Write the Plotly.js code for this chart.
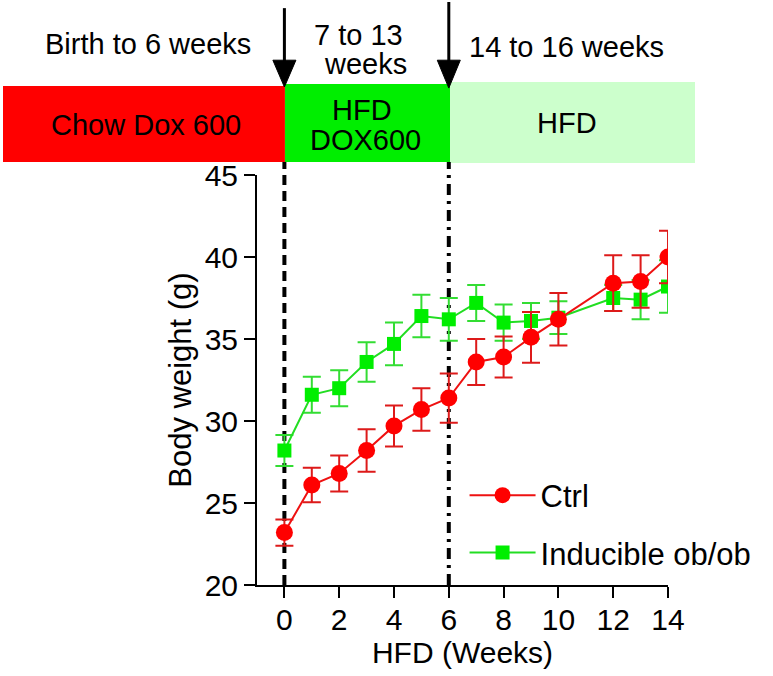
<!DOCTYPE html>
<html>
<head>
<meta charset="utf-8">
<script src="https://cdn.plot.ly/plotly-3.0.1.min.js"></script>
<style>html,body{margin:0;padding:0;background:#fff;}#chart{width:773px;height:676px;}</style>
</head>
<body>
<div id="chart"></div>
<script>
// ---- data ----
var weeks = [0, 1, 2, 3, 4, 5, 6, 7, 8, 9, 10, 12, 13, 14];
var ctrlWeight = [23.2, 26.1, 26.8, 28.2, 29.7, 30.7, 31.4, 33.6, 33.9, 35.1, 36.2, 38.4, 38.5, 40.0];
var ctrlErr    = [0.8, 1.05, 1.1, 1.3, 1.25, 1.3, 1.5, 1.4, 1.25, 1.55, 1.6, 1.7, 1.6, 1.6];
var obobWeight = [28.2, 31.6, 32.0, 33.6, 34.7, 36.4, 36.2, 37.2, 36.0, 36.1, 36.3, 37.5, 37.4, 38.2];
var obobErr    = [0.95, 1.1, 1.1, 1.2, 1.3, 1.3, 1.3, 1.1, 1.1, 1.1, 1.0, 0.8, 1.2, 1.6];
var seriesNames = ["Ctrl", "Inducible ob/ob"];
var yTicks = [20, 25, 30, 35, 40, 45];
var xTicks = [0, 2, 4, 6, 8, 10, 12, 14];
var phaseLabels = ["Birth to 6 weeks", "7 to 13", "weeks", "14 to 16 weeks"];
var boxLabels = ["Chow Dox 600", "HFD", "DOX600", "HFD"];
var switchWeeks = [0, 6];

var FONT = "Liberation Sans, Arial, Helvetica, sans-serif";

var traces = [
  {
    x: weeks, y: obobWeight, name: seriesNames[1], type: "scatter", mode: "lines+markers",
    legendrank: 2, legendgroup: "b",
    line: {color: "#22dd22", width: 2},
    marker: {symbol: "square", size: 14, color: "#00ee00"},
    error_y: {type: "data", array: obobErr, visible: true, color: "#33dd33", thickness: 2, width: 9}
  },
  {
    x: weeks, y: ctrlWeight, name: seriesNames[0], type: "scatter", mode: "lines+markers",
    legendrank: 1, legendgroup: "a",
    line: {color: "#ee1111", width: 2},
    marker: {symbol: "circle", size: 17, color: "#ff0000"},
    error_y: {type: "data", array: ctrlErr, visible: true, color: "#dd1a1a", thickness: 2, width: 9}
  }
];

function ann(text, x, y, xref) {
  return {text: text, x: x, y: y, xref: xref || "paper", yref: "paper", showarrow: false,
          xanchor: "center", yanchor: "middle", font: {family: FONT, size: 29, color: "#000"}};
}

var layout = {
  width: 773, height: 676, autosize: false,
  margin: {l: 257, r: 105, t: 175, b: 91},
  paper_bgcolor: "#fff", plot_bgcolor: "#fff",
  font: {family: FONT, size: 30, color: "#000"},
  showlegend: true,
  legend: {x: 0.505, y: 0.284, xanchor: "left", yanchor: "top", bgcolor: "rgba(0,0,0,0)",
           font: {family: FONT, size: 31, color: "#000"}, tracegroupgap: 14, itemwidth: 66,
           traceorder: "grouped"},
  xaxis: {range: [-1, 14], tickvals: xTicks, ticktext: xTicks.map(String), showgrid: false, zeroline: false,
          showline: true, linecolor: "#000", linewidth: 2, ticks: "outside", ticklen: 11, tickwidth: 2,
          tickcolor: "#000", tickfont: {family: FONT, size: 30}, ticklabelstandoff: -4, automargin: true,
          title: {text: "HFD (Weeks)", font: {family: FONT, size: 30}, standoff: 0}},
  yaxis: {range: [20, 45], tickvals: yTicks, ticktext: yTicks.map(String), showgrid: false, zeroline: false,
          showline: true, linecolor: "#000", linewidth: 2, ticks: "outside", ticklen: 11, tickwidth: 2,
          tickcolor: "#000", tickfont: {family: FONT, size: 30},
          title: {text: "Body weight (g)", font: {family: FONT, size: 31}, standoff: 4}},
  shapes: [
    {type: "rect", xref: "paper", yref: "paper", x0: -0.618, x1: 0.068, y0: 1.0317, y1: 1.217,
     fillcolor: "#ff0000", line: {width: 0}, layer: "below"},
    {type: "rect", xref: "paper", yref: "paper", x0: 0.068, x1: 0.4696, y0: 1.0317, y1: 1.222,
     fillcolor: "#00ee00", line: {width: 0}, layer: "below"},
    {type: "rect", xref: "paper", yref: "paper", x0: 0.4696, x1: 1.0657, y0: 1.029, y1: 1.2268,
     fillcolor: "#ccffcc", line: {width: 0}, layer: "below"},
    {type: "line", xref: "x", yref: "paper", x0: switchWeeks[0], x1: switchWeeks[0], y0: 0, y1: 1.0317,
     line: {color: "#000", width: 4, dash: "10px,6px"}, layer: "below"},
    {type: "line", xref: "x", yref: "paper", x0: switchWeeks[1], x1: switchWeeks[1], y0: 0, y1: 1.0317,
     line: {color: "#000", width: 4, dash: "11px,6px,3px,6px"}, layer: "below"},
    {type: "line", xref: "x", yref: "paper", x0: switchWeeks[0], x1: switchWeeks[0], y0: 1.407, y1: 1.26,
     line: {color: "#000", width: 3}},
    {type: "path", xref: "x", yref: "paper",
     path: "M " + (switchWeeks[0] - 0.42) + " 1.28 L " + (switchWeeks[0] + 0.42) + " 1.28 L " + switchWeeks[0] + " 1.2146 Z",
     fillcolor: "#000", line: {color: "#000", width: 1}},
    {type: "line", xref: "x", yref: "paper", x0: switchWeeks[1], x1: switchWeeks[1], y0: 1.422, y1: 1.26,
     line: {color: "#000", width: 3}},
    {type: "path", xref: "x", yref: "paper",
     path: "M " + (switchWeeks[1] - 0.42) + " 1.28 L " + (switchWeeks[1] + 0.42) + " 1.28 L " + switchWeeks[1] + " 1.212 Z",
     fillcolor: "#000", line: {color: "#000", width: 1}}
  ],
  annotations: [
    ann(phaseLabels[0], -0.265, 1.3195),
    ann(phaseLabels[1], 0.248, 1.3415),
    ann(phaseLabels[2], 0.265, 1.2707),
    ann(phaseLabels[3], 0.754, 1.312),
    ann(boxLabels[0], -0.270, 1.122),
    ann(boxLabels[1], 0.2555, 1.1585),
    ann(boxLabels[2], 0.2628, 1.0854),
    ann(boxLabels[3], 0.754, 1.127)
  ]
};

Plotly.newPlot("chart", traces, layout, {displayModeBar: false, staticPlot: true});
</script>
</body>
</html>
